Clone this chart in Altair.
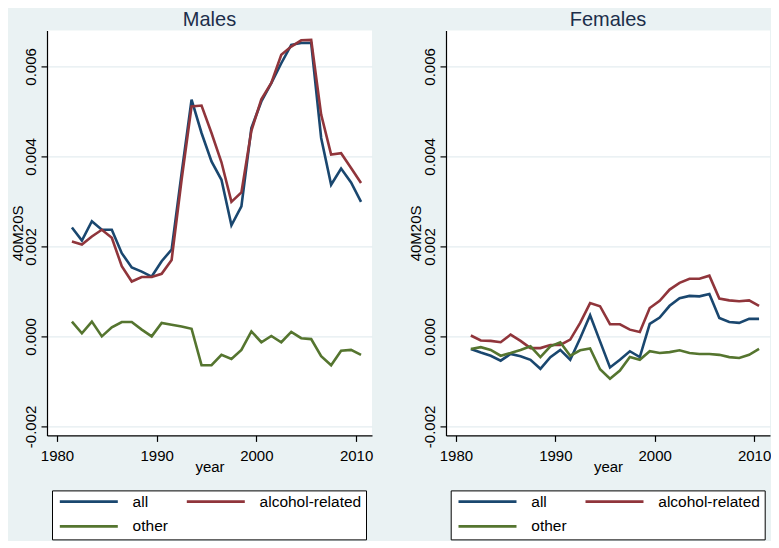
import altair as alt
import pandas as pd

YEARS = [1981.5, 1982.5, 1983.5, 1984.5, 1985.5, 1986.5, 1987.5, 1988.5, 1989.5, 1990.5,
         1991.5, 1992.5, 1993.5, 1994.5, 1995.5, 1996.5, 1997.5, 1998.5, 1999.5, 2000.5,
         2001.5, 2002.5, 2003.5, 2004.5, 2005.5, 2006.5, 2007.5, 2008.5, 2009.5, 2010.5]

MALES_ALL = [0.00242, 0.00213, 0.00256, 0.00237, 0.00237, 0.00185, 0.00153, 0.00144, 0.00133, 0.00167,
             0.00193, 0.00362, 0.00526, 0.00452, 0.00389, 0.00348, 0.00247, 0.00289, 0.00463, 0.00522,
             0.00563, 0.00607, 0.00648, 0.00652, 0.00652, 0.00441, 0.00337, 0.00373, 0.00342, 0.00299]
MALES_ALC = [0.00211, 0.00204, 0.00222, 0.00237, 0.00219, 0.00156, 0.00122, 0.00132, 0.00132, 0.00139,
             0.00170, 0.00348, 0.00511, 0.00513, 0.00452, 0.00387, 0.00299, 0.00320, 0.00457, 0.00527,
             0.00563, 0.00626, 0.00644, 0.00658, 0.00659, 0.00493, 0.00404, 0.00407, 0.00374, 0.00341]
MALES_OTH = [0.00033, 0.00007, 0.00033, 0.00000, 0.00020, 0.00032, 0.00032, 0.00015, 0.00000, 0.00030,
             0.00026, 0.00022, 0.00017, -0.00064, -0.00064, -0.00041, -0.00050, -0.00030, 0.00011, -0.00013,
             0.00001, -0.00013, 0.00010, -0.00004, -0.00006, -0.00044, -0.00064, -0.00032, -0.00030, -0.00041]

FEMALES_ALL = [-0.00028, -0.00036, -0.00043, -0.00054, -0.00039, -0.00044, -0.00052, -0.00072, -0.00046, -0.00030,
               -0.00052, -0.00004, 0.00047, -0.00011, -0.00069, -0.00052, -0.00033, -0.00046, 0.00028, 0.00042,
               0.00068, 0.00085, 0.00090, 0.00089, 0.00094, 0.00041, 0.00032, 0.00030, 0.00039, 0.00039]
FEMALES_ALC = [0.00002, -0.00009, -0.00010, -0.00013, 0.00004, -0.00010, -0.00026, -0.00026, -0.00019, -0.00019,
               -0.00007, 0.00030, 0.00074, 0.00067, 0.00027, 0.00027, 0.00015, 0.00010, 0.00063, 0.00079,
               0.00104, 0.00119, 0.00128, 0.00128, 0.00135, 0.00084, 0.00080, 0.00078, 0.00080, 0.00068]
FEMALES_OTH = [-0.00028, -0.00024, -0.00030, -0.00043, -0.00037, -0.00030, -0.00022, -0.00046, -0.00022, -0.00013,
               -0.00043, -0.00031, -0.00027, -0.00073, -0.00094, -0.00076, -0.00046, -0.00052, -0.00033, -0.00037,
               -0.00035, -0.00031, -0.00037, -0.00039, -0.00039, -0.00041, -0.00046, -0.00048, -0.00041, -0.00028]

SERIES = ["all", "alcohol-related", "other"]
COLORS = ["#1A476F", "#90353B", "#55752F"]
X_TICKS = [1980, 1990, 2000, 2010]
Y_TICKS = [-0.002, 0.0, 0.002, 0.004, 0.006]


def frame(values_by_series):
    rows = []
    for name, vals in zip(SERIES, values_by_series):
        for yr, v in zip(YEARS, vals):
            rows.append({"year": yr, "value": v, "series": name})
    return pd.DataFrame(rows)


males_df = frame([MALES_ALL, MALES_ALC, MALES_OTH])
females_df = frame([FEMALES_ALL, FEMALES_ALC, FEMALES_OTH])

FONT = "Liberation Sans"


def panel(df, title, legend_x, width):
    return alt.Chart(df).mark_line(strokeWidth=2.6).encode(
        x=alt.X("year:Q",
                scale=alt.Scale(domain=[1979, 2011.6], nice=False, zero=False),
                axis=alt.Axis(values=X_TICKS, format="d", title="year", grid=False,
                              labelBaseline="top", labelPadding=7,
                              titleY=24, titleBaseline="top")),
        y=alt.Y("value:Q",
                scale=alt.Scale(domain=[-0.0022, 0.0068], nice=False, zero=False),
                axis=alt.Axis(values=Y_TICKS, title="40M20S", grid=True,
                              labelExpr="datum.value < 0 ? '-' + format(-datum.value, '.3f') : format(datum.value, '.3f')",
                              labelAngle=-90, labelAlign="center", labelBaseline="bottom",
                              labelPadding=2.5,
                              titleAngle=-90, titleX=-22, titleY=202.5,
                              titleAlign="center", titleBaseline="bottom")),
        color=alt.Color("series:N",
                        scale=alt.Scale(domain=SERIES, range=COLORS),
                        legend=alt.Legend(title=None, orient="none", legendX=legend_x, legendY=460,
                                          direction="horizontal", columns=2, gridAlign="each",
                                          symbolType="stroke", symbolSize=3364, symbolStrokeWidth=2.6,
                                          clipHeight=14, symbolOffset=2.3,
                                          labelFont=FONT, labelFontSize=15.5, labelColor="black",
                                          labelOffset=13.3, columnPadding=15, rowPadding=9,
                                          padding=4, strokeColor="black", fillColor="white")),
    ).properties(
        width=width, height=405,
        title=alt.TitleParams(text=title, fontSize=20, font=FONT, color="#1C2E4A",
                              fontWeight="normal", anchor="middle", frame="group", offset=0),
    )


males = panel(males_df, "Males", 5, 325)
females = panel(females_df, "Females", 4.7, 324)

chart = alt.hconcat(males, females, spacing=36).resolve_scale(
    color="independent"
).resolve_legend(
    color="independent"
).properties(
    padding={"left": 2, "top": 2.4, "right": 0, "bottom": 1},
    background="#EAF2F3",
).configure_view(
    fill="white", strokeWidth=0
).configure_axis(
    domainColor="black", domainWidth=1.2, tickColor="black", tickWidth=1.2, tickSize=6,
    labelFont=FONT, labelFontSize=15, labelColor="black",
    titleFont=FONT, titleFontSize=15, titleColor="black", titleFontWeight="normal",
    gridColor="#E4EDF0", gridWidth=1.2,
)

chart.save("out.html", embed_options={"renderer": "svg", "actions": False})
